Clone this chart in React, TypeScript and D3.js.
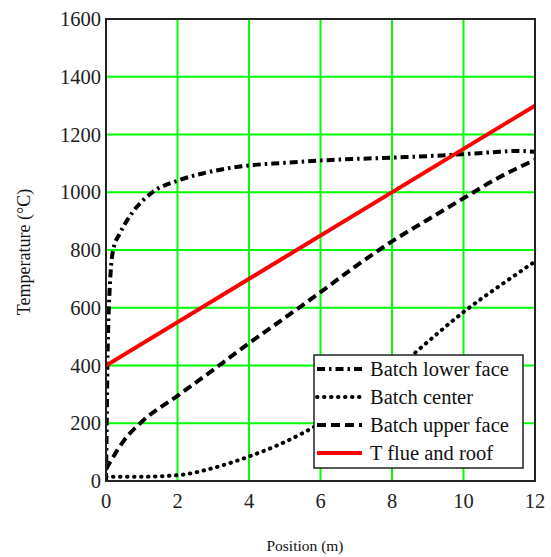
import React, { useEffect, useRef } from 'react';
import * as d3 from 'd3';

// position (m) / temperature (°C)
const lowerFace: [number, number][] = [
  [0, 0], [0.02, 200], [0.04, 400], [0.08, 600], [0.2, 800], [0.4, 860],
  [0.73, 928], [1.3, 1000], [2, 1040], [2.7, 1065], [3.8, 1090], [5, 1102],
  [6, 1110], [8, 1120], [9, 1125], [10, 1132], [11, 1140], [11.5, 1143], [12, 1140],
];
const center: [number, number][] = [
  [0, 15], [1, 15], [2, 20], [3, 45], [4, 85], [5, 135], [6, 200], [7, 278],
  [8, 375], [9, 482], [10, 585], [11, 675], [12, 760],
];
const upperFace: [number, number][] = [
  [0, 40], [0.1, 62], [0.5, 140], [1, 205], [2, 295], [3, 385], [4, 477],
  [5, 565], [6, 654], [7, 745], [8, 830], [9, 905], [10, 979], [11, 1052], [12, 1112],
];
const flue: [number, number][] = [[0, 400], [12, 1300]];

const xTicks = [0, 2, 4, 6, 8, 10, 12];
const yTicks = [0, 200, 400, 600, 800, 1000, 1200, 1400, 1600];

const seriesNames = ['Batch lower face', 'Batch center', 'Batch upper face', 'T flue and roof'];

const FONT = '"Liberation Serif", "Times New Roman", serif';

const styles = [
  { color: '#000', width: 4, dash: '8,4,2.5,4', cap: 'butt' },
  { color: '#000', width: 4, dash: '0.5,6.5', cap: 'round' },
  { color: '#000', width: 4, dash: '9,5', cap: 'butt' },
  { color: '#ff0000', width: 4, dash: null as string | null, cap: 'butt' },
];

export default function App() {
  const svgRef = useRef<SVGSVGElement | null>(null);

  useEffect(() => {
    if (!svgRef.current) return;
    const svg = d3.select(svgRef.current);
    svg.selectAll('*').remove();

    const left = 106, right = 535, top = 19, bottom = 481;
    const x = d3.scaleLinear().domain([0, 12]).range([left, right]);
    const y = d3.scaleLinear().domain([0, 1600]).range([bottom, top]);

    svg.append('rect').attr('width', 551).attr('height', 557).attr('fill', '#fff');

    svg.append('clipPath').attr('id', 'plot-clip')
      .append('rect').attr('x', left).attr('y', top).attr('width', right - left).attr('height', bottom - top);

    // grid
    const grid = svg.append('g').attr('stroke', '#00ff00').attr('stroke-width', 2);
    grid.selectAll('line.gx').data(xTicks.slice(1, -1)).enter().append('line')
      .attr('x1', (d) => x(d)).attr('x2', (d) => x(d)).attr('y1', top).attr('y2', bottom);
    grid.selectAll('line.gy').data(yTicks.slice(1, -1)).enter().append('line')
      .attr('y1', (d) => y(d)).attr('y2', (d) => y(d)).attr('x1', left).attr('x2', right);

    // curves
    const line = d3.line<[number, number]>()
      .x((d) => x(d[0])).y((d) => y(d[1]))
      .curve(d3.curveMonotoneX);

    const data = [lowerFace, center, upperFace, flue];
    const curves = svg.append('g').attr('clip-path', 'url(#plot-clip)');
    data.forEach((pts, i) => {
      const s = styles[i];
      const p = curves.append('path')
        .attr('d', line(pts) || '')
        .attr('fill', 'none')
        .attr('stroke', s.color)
        .attr('stroke-width', s.width)
        .attr('stroke-linecap', s.cap);
      if (s.dash) p.attr('stroke-dasharray', s.dash);
    });

    // frame
    svg.append('rect').attr('x', left).attr('y', top).attr('width', right - left).attr('height', bottom - top)
      .attr('fill', 'none').attr('stroke', '#222').attr('stroke-width', 2);

    // tick labels
    svg.append('g').selectAll('text').data(yTicks).enter().append('text')
      .attr('x', left - 5).attr('y', (d) => y(d)).attr('dy', '0.35em')
      .attr('text-anchor', 'end').style('font-family', FONT).attr('font-size', 20.5).attr('fill', '#222')
      .text((d) => d);
    svg.append('g').selectAll('text').data(xTicks).enter().append('text')
      .attr('x', (d) => x(d)).attr('y', 508)
      .attr('text-anchor', 'middle').style('font-family', FONT).attr('font-size', 20.5).attr('fill', '#222')
      .text((d) => d);

    // axis titles
    svg.append('text').attr('x', 305).attr('y', 551).attr('text-anchor', 'middle')
      .style('font-family', FONT).attr('font-size', 15.5).attr('fill', '#111').text('Position (m)');
    svg.append('text').attr('transform', 'translate(30,252) rotate(-90)').attr('text-anchor', 'middle')
      .style('font-family', FONT).attr('font-size', 18).attr('fill', '#111').text('Temperature (°C)');

    // legend
    const lg = svg.append('g');
    lg.append('rect').attr('x', 314).attr('y', 355).attr('width', 209).attr('height', 113)
      .attr('fill', '#fff').attr('stroke', '#222').attr('stroke-width', 1.5);
    seriesNames.forEach((name, i) => {
      const cy = 369 + i * 28;
      const s = styles[i];
      const l = lg.append('line').attr('x1', 317).attr('x2', 362).attr('y1', cy).attr('y2', cy)
        .attr('stroke', s.color).attr('stroke-width', s.width).attr('stroke-linecap', s.cap);
      if (s.dash) l.attr('stroke-dasharray', s.dash);
      lg.append('text').attr('x', 370).attr('y', cy).attr('dy', '0.35em')
        .style('font-family', FONT).attr('font-size', 20.5).attr('fill', '#111').text(name);
    });
  }, []);

  return (
    <svg
      ref={svgRef}
      width={551}
      height={557}
      style={{ position: 'absolute', left: 0, top: 0, display: 'block' }}
    />
  );
}
